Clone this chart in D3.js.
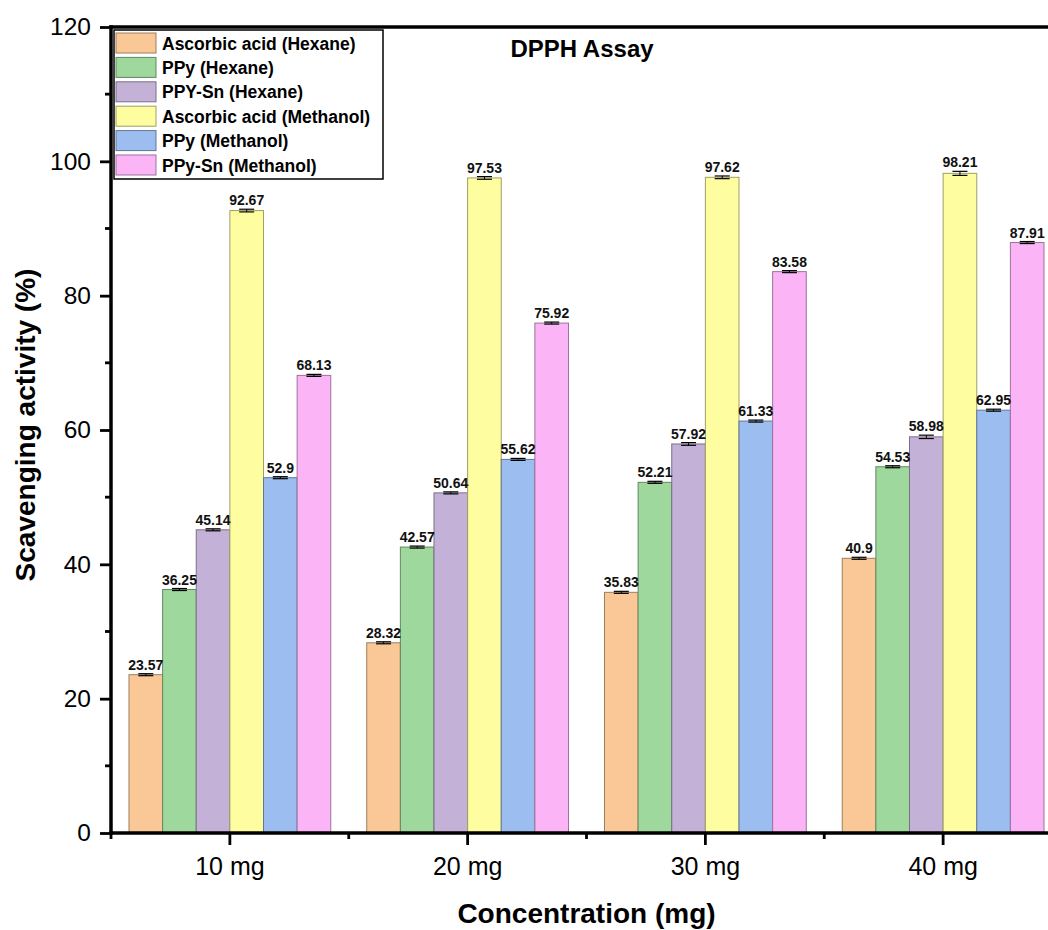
<!DOCTYPE html>
<html>
<head>
<meta charset="utf-8">
<script src="https://cdn.jsdelivr.net/npm/d3@7"></script>
<style>
  html, body { margin: 0; padding: 0; background: #fff; }
  svg { display: block; font-family: "Liberation Sans", Arial, Helvetica, sans-serif; }
</style>
</head>
<body>
<svg id="chart" width="1048" height="930"></svg>
<script>
// Concentrations on the x axis
const categories = ["10 mg", "20 mg", "30 mg", "40 mg"];

// Series names (legend order)
const seriesNames = [
  "Ascorbic acid (Hexane)",
  "PPy (Hexane)",
  "PPY-Sn (Hexane)",
  "Ascorbic acid (Methanol)",
  "PPy (Methanol)",
  "PPy-Sn (Methanol)"
];

// Scavenging activity (%) per series, one value per concentration
const ascorbicHexane   = [23.57, 28.32, 35.83, 40.9];
const ppyHexane        = [36.25, 42.57, 52.21, 54.53];
const ppySnHexane      = [45.14, 50.64, 57.92, 58.98];
const ascorbicMethanol = [92.67, 97.53, 97.62, 98.21];
const ppyMethanol      = [52.9, 55.62, 61.33, 62.95];
const ppySnMethanol    = [68.13, 75.92, 83.58, 87.91];

// Standard deviations (error bars)
const errAscorbicHexane   = [0.15, 0.15, 0.15, 0.15];
const errPpyHexane        = [0.15, 0.15, 0.15, 0.15];
const errPpySnHexane      = [0.15, 0.15, 0.2, 0.25];
const errAscorbicMethanol = [0.2, 0.2, 0.2, 0.3];
const errPpyMethanol      = [0.15, 0.15, 0.15, 0.15];
const errPpySnMethanol    = [0.15, 0.15, 0.15, 0.15];

const yTicks = [0, 20, 40, 60, 80, 100, 120];
const yMinorTicks = [10, 30, 50, 70, 90, 110];

const colors = ["#FAC896", "#9ED89C", "#C3B1D7", "#FEFDA0", "#9CBDF0", "#FBB5F7"];

const seriesValues = [ascorbicHexane, ppyHexane, ppySnHexane, ascorbicMethanol, ppyMethanol, ppySnMethanol];
const seriesErrors = [errAscorbicHexane, errPpyHexane, errPpySnHexane, errAscorbicMethanol, errPpyMethanol, errPpySnMethanol];

const svg = d3.select("#chart");

const plotLeft = 111, plotRight = 1062, plotTop = 27, plotBottom = 833;

const x0 = d3.scaleBand().domain(categories).range([plotLeft, plotRight]).padding(0);
const x1 = d3.scaleBand().domain(seriesNames).range([0, x0.bandwidth()]).paddingInner(0).paddingOuter(0.535);
const y = d3.scaleLinear().domain([0, 120]).range([plotBottom, plotTop]);

const color = d3.scaleOrdinal().domain(seriesNames).range(colors);

// Flatten into one record per bar
const bars = [];
categories.forEach((c, ci) => {
  seriesNames.forEach((s, si) => {
    bars.push({ cat: c, series: s, value: seriesValues[si][ci], err: seriesErrors[si][ci] });
  });
});

const cx = d => x0(d.cat) + x1(d.series) + x1.bandwidth() / 2;

const plot = svg.append("g");

// Bars
plot.selectAll("rect.bar")
  .data(bars)
  .join("rect")
  .attr("class", "bar")
  .attr("x", d => x0(d.cat) + x1(d.series))
  .attr("y", d => y(d.value))
  .attr("width", x1.bandwidth())
  .attr("height", d => y(0) - y(d.value))
  .attr("fill", d => color(d.series))
  .attr("stroke", d => d3.color(color(d.series)).darker(1.3))
  .attr("stroke-width", 1);

// Error bars
const capHalf = 7.5;
const eb = plot.selectAll("g.err").data(bars).join("g").attr("class", "err");
eb.append("line")
  .attr("x1", cx).attr("x2", cx)
  .attr("y1", d => y(d.value - d.err))
  .attr("y2", d => y(d.value + d.err))
  .attr("stroke", "#000").attr("stroke-width", 1);
eb.append("line")
  .attr("x1", d => cx(d) - capHalf).attr("x2", d => cx(d) + capHalf)
  .attr("y1", d => y(d.value + d.err)).attr("y2", d => y(d.value + d.err))
  .attr("stroke", "#000").attr("stroke-width", 1.2);
eb.append("line")
  .attr("x1", d => cx(d) - capHalf).attr("x2", d => cx(d) + capHalf)
  .attr("y1", d => y(d.value - d.err)).attr("y2", d => y(d.value - d.err))
  .attr("stroke", "#000").attr("stroke-width", 1.2);

// Value labels
plot.selectAll("text.val")
  .data(bars)
  .join("text")
  .attr("class", "val")
  .attr("x", cx)
  .attr("y", d => y(d.value + d.err) - 4)
  .attr("text-anchor", "middle")
  .attr("font-size", 14)
  .attr("font-weight", "bold")
  .attr("fill", "#111")
  .text(d => String(d.value));

// Y axis
const yAxis = svg.append("g")
  .attr("transform", `translate(${plotLeft},0)`)
  .call(d3.axisLeft(y).tickValues(yTicks).tickSize(11).tickPadding(9).tickFormat(d3.format("d")));
yAxis.select(".domain").remove();
yAxis.selectAll(".tick line").attr("stroke", "#000").attr("stroke-width", 2.8);
yAxis.selectAll(".tick text").attr("font-size", 24.5).attr("fill", "#000").attr("font-family", "Liberation Sans, Arial, sans-serif");

svg.append("g").selectAll("line")
  .data(yMinorTicks)
  .join("line")
  .attr("x1", plotLeft - 6).attr("x2", plotLeft)
  .attr("y1", d => y(d)).attr("y2", d => y(d))
  .attr("stroke", "#000").attr("stroke-width", 2.8);

// X axis
const xAxis = svg.append("g")
  .attr("transform", `translate(0,${plotBottom})`)
  .call(d3.axisBottom(x0).tickSize(12).tickPadding(12));
xAxis.select(".domain").remove();
xAxis.selectAll(".tick line").attr("stroke", "#000").attr("stroke-width", 2.8);
xAxis.selectAll(".tick text").attr("font-size", 25).attr("fill", "#000").attr("font-family", "Liberation Sans, Arial, sans-serif");

// Minor x ticks at group boundaries
svg.append("g").selectAll("line")
  .data(categories.map(c => x0(c)).concat([plotRight]))
  .join("line")
  .attr("x1", d => d).attr("x2", d => d)
  .attr("y1", plotBottom).attr("y2", plotBottom + 6)
  .attr("stroke", "#000").attr("stroke-width", 2.8);

// Frame lines (left, bottom, top)
const frameW = 3.5;
svg.append("line").attr("x1", plotLeft).attr("x2", plotLeft).attr("y1", plotTop - frameW / 2).attr("y2", plotBottom + frameW / 2)
  .attr("stroke", "#000").attr("stroke-width", frameW);
svg.append("line").attr("x1", plotLeft - frameW / 2).attr("x2", plotRight).attr("y1", plotBottom).attr("y2", plotBottom)
  .attr("stroke", "#000").attr("stroke-width", frameW);
svg.append("line").attr("x1", plotLeft - frameW / 2).attr("x2", plotRight).attr("y1", plotTop).attr("y2", plotTop)
  .attr("stroke", "#000").attr("stroke-width", frameW);

// Axis titles
svg.append("text")
  .attr("x", (plotLeft + plotRight) / 2).attr("y", 923)
  .attr("text-anchor", "middle")
  .attr("font-size", 28).attr("font-weight", "bold").attr("fill", "#000")
  .text("Concentration (mg)");

svg.append("text")
  .attr("transform", `translate(35,${(plotTop + plotBottom) / 2 - 5}) rotate(-90)`)
  .attr("text-anchor", "middle")
  .attr("font-size", 28).attr("font-weight", "bold").attr("fill", "#000")
  .text("Scavenging activity (%)");

// Chart title
svg.append("text")
  .attr("x", 582).attr("y", 57)
  .attr("text-anchor", "middle")
  .attr("font-size", 24).attr("font-weight", "bold").attr("fill", "#000")
  .text("DPPH Assay");

// Legend
const legend = svg.append("g");
legend.append("rect")
  .attr("x", 114).attr("y", 30).attr("width", 269).attr("height", 149)
  .attr("fill", "#fff").attr("stroke", "#000").attr("stroke-width", 1.5);
const rowH = 24.4;
const items = legend.selectAll("g.item").data(seriesNames).join("g").attr("class", "item")
  .attr("transform", (d, i) => `translate(116,${33 + i * rowH})`);
items.append("rect")
  .attr("width", 40).attr("height", 20)
  .attr("fill", d => color(d))
  .attr("stroke", d => d3.color(color(d)).darker(1.3))
  .attr("stroke-width", 1);
items.append("text")
  .attr("x", 46).attr("y", 16.5)
  .attr("font-size", 17.5).attr("font-weight", "bold").attr("fill", "#000")
  .text(d => d);
</script>
</body>
</html>
